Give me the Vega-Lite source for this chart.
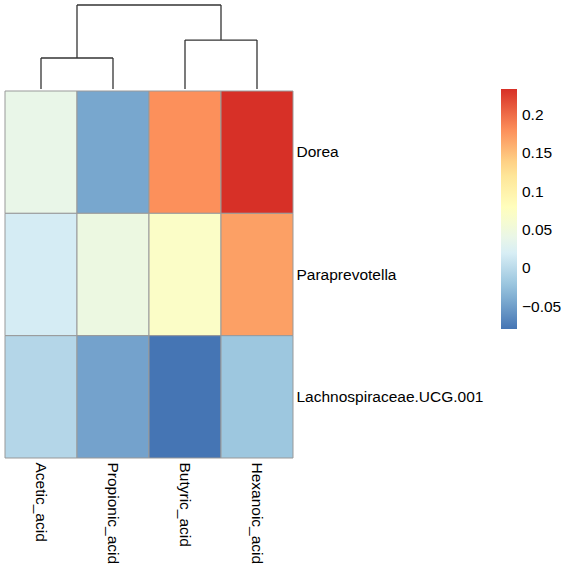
{
  "$schema": "https://vega.github.io/schema/vega-lite/v6.json",
  "padding": {"left": 4, "top": 4, "right": 0, "bottom": 0},
  "spacing": 0,
  "config": {
    "view": {"stroke": null},
    "font": "Liberation Sans",
    "axis": {"labelColor": "#000000", "labelFontSize": 15.5},
    "legend": {"labelColor": "#000000", "labelFontSize": 15.5}
  },
  "datasets": {
    "cells": [
      {"genus": "Dorea", "acid": "Acetic_acid", "value": 0.040},
      {"genus": "Dorea", "acid": "Propionic_acid", "value": -0.044},
      {"genus": "Dorea", "acid": "Butyric_acid", "value": 0.180},
      {"genus": "Dorea", "acid": "Hexanoic_acid", "value": 0.234},
      {"genus": "Paraprevotella", "acid": "Acetic_acid", "value": 0.018},
      {"genus": "Paraprevotella", "acid": "Propionic_acid", "value": 0.046},
      {"genus": "Paraprevotella", "acid": "Butyric_acid", "value": 0.070},
      {"genus": "Paraprevotella", "acid": "Hexanoic_acid", "value": 0.170},
      {"genus": "Lachnospiraceae.UCG.001", "acid": "Acetic_acid", "value": -0.004},
      {"genus": "Lachnospiraceae.UCG.001", "acid": "Propionic_acid", "value": -0.047},
      {"genus": "Lachnospiraceae.UCG.001", "acid": "Butyric_acid", "value": -0.079},
      {"genus": "Lachnospiraceae.UCG.001", "acid": "Hexanoic_acid", "value": -0.019}
    ],
    "tree": [
      {"x0": 0.5, "x1": 0.5, "h0": 0, "h1": 0.369},
      {"x0": 1.5, "x1": 1.5, "h0": 0, "h1": 0.369},
      {"x0": 0.5, "x1": 1.5, "h0": 0.369, "h1": 0.369},
      {"x0": 2.5, "x1": 2.5, "h0": 0, "h1": 0.583},
      {"x0": 3.5, "x1": 3.5, "h0": 0, "h1": 0.583},
      {"x0": 2.5, "x1": 3.5, "h0": 0.583, "h1": 0.583},
      {"x0": 1.0, "x1": 1.0, "h0": 0.369, "h1": 1},
      {"x0": 3.0, "x1": 3.0, "h0": 0.583, "h1": 1},
      {"x0": 1.0, "x1": 3.0, "h0": 1, "h1": 1}
    ]
  },
  "vconcat": [
    {
      "width": 288,
      "height": 84,
      "data": {"name": "tree"},
      "mark": {"type": "rule", "color": "#333333", "strokeWidth": 1.3},
      "encoding": {
        "x": {"field": "x0", "type": "quantitative", "scale": {"domain": [0, 4]}, "axis": null},
        "x2": {"field": "x1"},
        "y": {"field": "h0", "type": "quantitative", "scale": {"domain": [0, 1]}, "axis": null},
        "y2": {"field": "h1"}
      }
    },
    {
      "width": 288,
      "height": 367,
      "data": {"name": "cells"},
      "mark": {"type": "rect", "stroke": "#999999", "strokeWidth": 1},
      "encoding": {
        "x": {
          "field": "acid",
          "type": "nominal",
          "sort": ["Acetic_acid", "Propionic_acid", "Butyric_acid", "Hexanoic_acid"],
          "scale": {"paddingInner": 0, "paddingOuter": 0},
          "axis": {"title": null, "domain": false, "ticks": false, "labelAngle": 90, "labelAlign": "left", "labelBaseline": "middle", "labelPadding": 4}
        },
        "y": {
          "field": "genus",
          "type": "nominal",
          "sort": ["Dorea", "Paraprevotella", "Lachnospiraceae.UCG.001"],
          "scale": {"paddingInner": 0, "paddingOuter": 0},
          "axis": {"title": null, "orient": "right", "domain": false, "ticks": false, "labelPadding": 3, "labelLimit": 0}
        },
        "color": {
          "field": "value",
          "type": "quantitative",
          "scale": {
            "domain": [-0.079, -0.0268, 0.0253, 0.0775, 0.1297, 0.1818, 0.234],
            "range": ["#4575B4", "#91BFDB", "#E0F3F8", "#FFFFBF", "#FEE090", "#FC8D59", "#D73027"],
            "interpolate": "rgb"
          },
          "legend": {
            "title": null,
            "orient": "none",
            "legendX": 496,
            "legendY": 84,
            "padding": 0,
            "gradientLength": 240,
            "gradientThickness": 16,
            "gradientStrokeWidth": 0,
            "values": [-0.05, 0, 0.05, 0.1, 0.15, 0.2],
            "format": ".2~f",
            "labelOverlap": false,
            "labelOffset": 5
          }
        }
      }
    }
  ]
}
